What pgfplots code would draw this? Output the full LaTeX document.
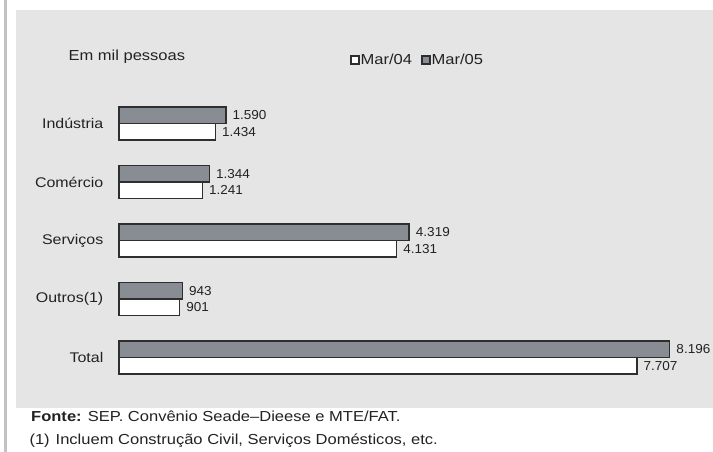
\documentclass[border=0pt]{standalone}
\usepackage{fontspec}
\setmainfont{Liberation Sans}[FakeStretch=1.14]
\newfontfamily\numfont{Liberation Sans}[FakeStretch=1.04]
\usepackage{pgfplots}
\pgfplotsset{compat=1.18}
\definecolor{panel}{HTML}{E5E5E5}
\definecolor{barGray}{HTML}{878D93}
\definecolor{edge}{HTML}{2E2E2E}
\definecolor{ink}{HTML}{222222}
\definecolor{rulegray}{HTML}{C2C2C2}
\newcommand{\txt}{\fontsize{14.5bp}{16.5bp}\selectfont}
\newcommand{\cat}{\fontsize{14bp}{16bp}\selectfont}
\begin{document}
\begin{tikzpicture}
\useasboundingbox (0,0) rectangle (713bp,452bp);
\fill[white] (0,0) rectangle (713bp,452bp);
\fill[rulegray] (4.3bp,0) rectangle (7.3bp,452bp);
\fill[panel] (15.7bp,44.3bp) rectangle (713bp,442.3bp);
\node[anchor=base west, inner sep=0, font=\txt, text=ink] at (68.3bp,391bp) {Em mil pessoas};
\begin{axis}[
  at={(119bp,65bp)}, anchor=south west,
  scale only axis, width=584.6bp, height=292.75bp,
  xmin=0, xmax=8700, ymin=-0.5, ymax=4.5,
  clip=false,
  xbar, bar width=16.5bp,
  axis line style={draw=none},
  xtick=\empty, ytick={0,1,2,3,4},
  yticklabels={Total,Outros(1),Serviços,Comércio,Indústria},
  major tick length=0pt,
  yticklabel style={font=\cat, text=ink, inner sep=0pt, anchor=east, xshift=-15.5bp},
  point meta=x,
  nodes near coords={\pgfmathprintnumber[fixed, precision=0, 1000 sep={.}, assume math mode=true]{\pgfplotspointmeta}},
  nodes near coords align={horizontal},
  every node near coord/.append style={font=\numfont\fontsize{13bp}{15bp}\selectfont, text=ink, inner sep=0pt, anchor=west, xshift=6bp},
  legend columns=2,
  legend style={at={(0.39,1.117)}, anchor=west, draw=none, fill=none, font=\txt, text=ink,
    nodes={inner sep=1bp}, /tikz/every even column/.append style={column sep=8bp}},
  legend image code/.code={\draw[#1, line width=1.5bp] (0bp,-4bp) rectangle (8bp,4bp);},
]
\addplot[fill=white, draw=edge, line width=1.5bp, bar shift=-8.25bp]
  coordinates {(7707,0) (901,1) (4131,2) (1241,3) (1434,4)};
\addplot[fill=barGray, draw=edge, line width=1.5bp, bar shift=8.25bp]
  coordinates {(8196,0) (943,1) (4319,2) (1344,3) (1590,4)};
\legend{Mar/04, Mar/05}
\end{axis}
\node[anchor=base west, inner sep=0, font=\txt, text=ink] at (31bp,30.5bp) {\textbf{Fonte:} SEP. Convênio Seade–Dieese e MTE/FAT.};
\node[anchor=base west, inner sep=0, font=\txt, text=ink] at (29.3bp,7.7bp) {(1)\hspace{6bp}Incluem Construção Civil, Serviços Domésticos, etc.};
\end{tikzpicture}
\end{document}
